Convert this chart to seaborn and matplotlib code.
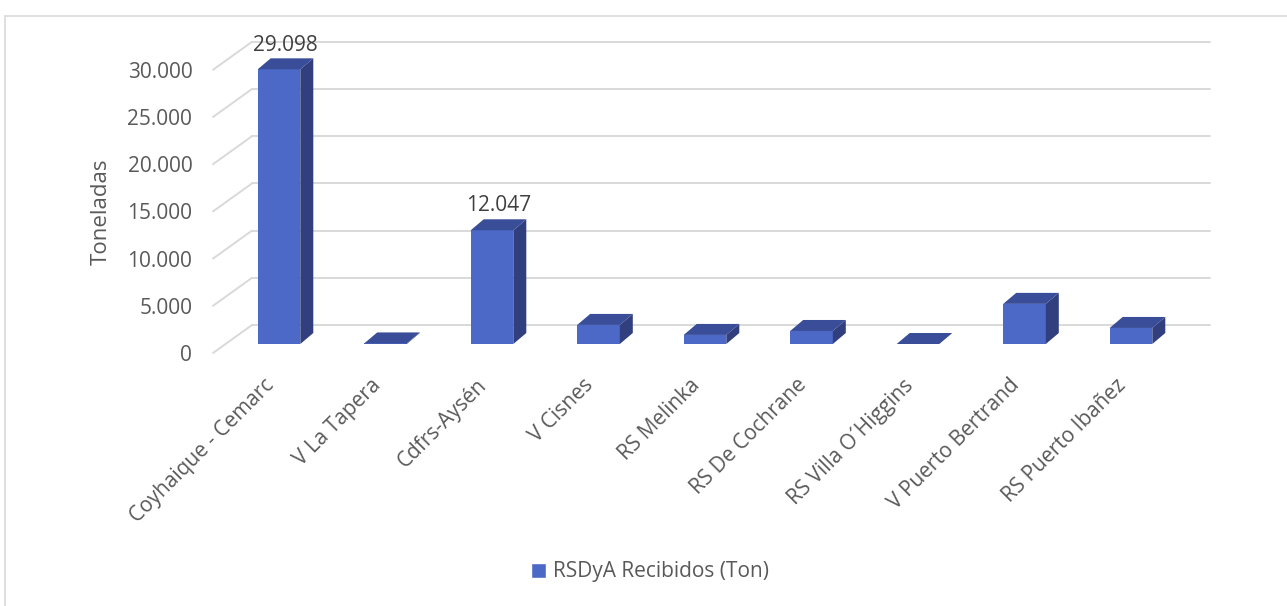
import matplotlib
matplotlib.use("Agg")
import matplotlib.pyplot as plt
from matplotlib.patches import Polygon, Patch, Rectangle
from matplotlib.transforms import ScaledTranslation
import seaborn as sns

# datos
sitios = ["Coyhaique - Cemarc", "V La Tapera", "Cdfrs-Aysén", "V Cisnes", "RS Melinka",
          "RS De Cochrane", "RS Villa O´Higgins", "V Puerto Bertrand", "RS Puerto Ibañez"]
toneladas = [29098, 60, 12047, 2020, 960, 1380, 0, 4250, 1700]
etiquetas = {0: "29.098", 2: "12.047"}
ticks_y = [0, 5000, 10000, 15000, 20000, 25000, 30000]
serie = "RSDyA Recibidos (Ton)"

c_frente = "#4d69c7"
c_lado = "#313f7e"
c_techo = "#394d98"
c_grid = "#d9d9d9"
c_txt = "#595959"
fs = 15

sns.set_theme(style="white")
plt.rcParams["font.family"] = ["Open Sans", "DejaVu Sans"]

W, H = 1287, 606
fig = plt.figure(figsize=(W / 100, H / 100), dpi=100)
# ejes en pixeles: izq 200, der 1230, arriba 30, abajo 360
ax = fig.add_axes([200 / W, (H - 360) / H, 1030 / W, 330 / H])

# escala: 106.5 px por categoria (cat 0 en x=279), 47.2 px por 5000 t (cero en y=344)
px_cat = 106.5
px_ton = 47.2 / 5000

# profundidad 3D
dx_bar, dy_bar = 13 / px_cat, 11 / px_ton
dy_front, dy_back = 9 / px_ton, 19 / px_ton
x_wall_front, x_wall_back = (213 - 279) / px_cat, (252 - 279) / px_cat
x_end = (1210 - 279) / px_cat

# pared del fondo con lineas de division
for v in ticks_y:
    ax.plot([x_wall_front, x_wall_back], [v - dy_front, v + dy_back], color=c_grid, lw=1.4, zorder=0)
    ax.plot([x_wall_back, x_end], [v + dy_back, v + dy_back], color=c_grid, lw=1.4, zorder=0)

sns.barplot(x=sitios, y=toneladas, color=c_frente, width=0.4, saturation=1,
            edgecolor="none", ax=ax, zorder=3)

for i, p in enumerate(ax.patches):
    x0 = p.get_x()
    x1 = x0 + p.get_width()
    h = p.get_height()
    lado = Polygon([(x1, 0), (x1 + dx_bar, dy_bar), (x1 + dx_bar, h + dy_bar), (x1, h)],
                   closed=True, facecolor=c_lado, edgecolor="none", zorder=3)
    techo = Polygon([(x0, h), (x0 + dx_bar, h + dy_bar), (x1 + dx_bar, h + dy_bar), (x1, h)],
                    closed=True, facecolor=c_techo, edgecolor="none", zorder=3)
    ax.add_patch(lado)
    ax.add_patch(techo)
    if i in etiquetas:
        ax.annotate(etiquetas[i], (x0 + p.get_width() / 2 + dx_bar / 2, h + dy_bar),
                    xytext=(0, 2), textcoords="offset points", ha="center", va="bottom",
                    fontsize=fs, color="#404040")

ax.set_xlim((200 - 279) / px_cat, (1230 - 279) / px_cat)
ax.set_ylim(-(360 - 344) / px_ton, (344 - 30) / px_ton)

ax.set_yticks([v - dy_front for v in ticks_y])
ax.set_yticklabels([f"{v:,}".replace(",", ".") for v in ticks_y])
ax.tick_params(axis="y", length=0, pad=5.5, labelsize=fs, labelcolor=c_txt)
ax.tick_params(axis="x", length=0, pad=13, labelsize=fs, labelcolor=c_txt)
desplaza = ScaledTranslation(-0.08, -0.04, fig.dpi_scale_trans)
for lab in ax.get_xticklabels():
    lab.set_rotation(45)
    lab.set_ha("right")
    lab.set_va("center")
    lab.set_rotation_mode("anchor")
    lab.set_transform(lab.get_transform() + desplaza)
for s in ax.spines.values():
    s.set_visible(False)
ax.grid(False)
ax.set_xlabel("")
ax.set_ylabel("")

fig.text(101 / W, 1 - 212 / H, "Toneladas", rotation=90, ha="center", va="center",
         fontsize=16, color=c_txt)

fig.legend(handles=[Patch(facecolor=c_frente, label=serie)], loc="center",
           bbox_to_anchor=(650 / W, 1 - 572 / H), frameon=False, fontsize=fs,
           labelcolor=c_txt, handlelength=0.75, handleheight=0.75, handletextpad=0.35)

# borde del area del grafico
fig.patches.append(Rectangle((5 / W, -0.05), 1.1, 1 - 16 / H + 0.05, transform=fig.transFigure,
                             fill=False, edgecolor=c_grid, lw=1.2))

fig.savefig("out.png", dpi=100)
